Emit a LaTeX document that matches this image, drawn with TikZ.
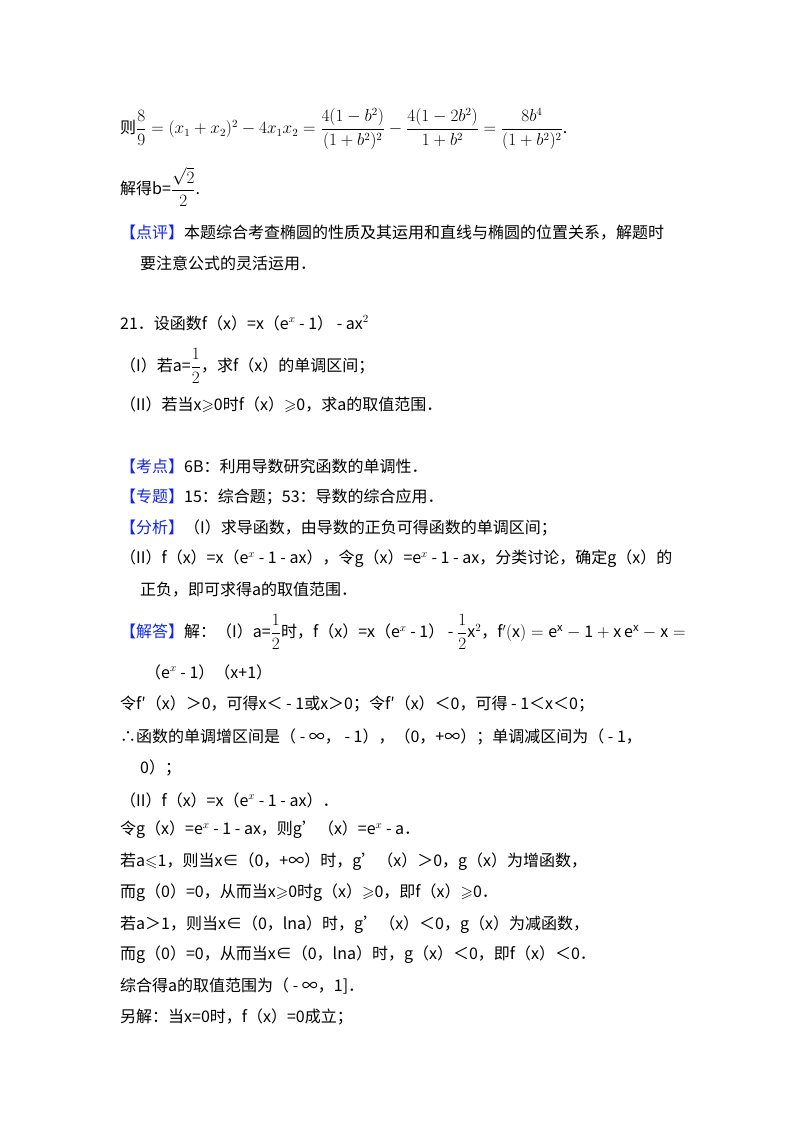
\documentclass[tikz,border=0pt]{standalone}
\usepackage{amsmath,amssymb}
\usepackage{fontspec}
\setmainfont{Noto Sans CJK SC}
\definecolor{kb}{RGB}{20,40,230}
\newcommand{\kl}[1]{\textcolor{kb}{【#1】}}
\newcommand{\gs}{$\geqslant$}
\newcommand{\ls}{$\leqslant$}
\begin{document}
\begin{tikzpicture}[x=1pt,y=-1pt,every node/.style={anchor=west,inner sep=0pt,font=\fontsize{16}{18}\selectfont}]
\useasboundingbox[fill=white] (0,0) rectangle (800,1132);
\node (l1) at (120,129) {则$\dfrac{8}{9}=(x_1+x_2)^2-4x_1x_2=\dfrac{4(1-b^2)}{(1+b^2)^2}-\dfrac{4(1-2b^2)}{1+b^2}=\dfrac{8b^4}{(1+b^2)^2}$.};
\node (l2) at (120,187) {解得b=$\dfrac{\sqrt{2}}{2}$.};
\node (l3) at (120,233) {\kl{点评}本题综合考查椭圆的性质及其运用和直线与椭圆的位置关系，解题时};
\node (l4) at (140,263) {要注意公式的灵活运用．};
\node (l5) at (120,323) {21．设函数f（x）=x（e$^{x}$ - 1） - ax$^2$};
\node (l6) at (120,366) {（I）若a=$\dfrac12$，求f（x）的单调区间；};
\node (l7) at (120,405) {（II）若当x\gs0时f（x）\gs0，求a的取值范围．};
\node (l8) at (120,466) {\kl{考点}6B：利用导数研究函数的单调性．};
\node (l9) at (120,497) {\kl{专题}15：综合题；53：导数的综合应用．};
\node (l10) at (120,528) {\kl{分析}（I）求导函数，由导数的正负可得函数的单调区间；};
\node (l11) at (120,559) {（II）f（x）=x（e$^{x}$ - 1 - ax），令g（x）=e$^{x}$ - 1 - ax，分类讨论，确定g（x）的};
\node (l12) at (140,590) {正负，即可求得a的取值范围．};
\node (l13) at (120,632) {\kl{解答}解：（I）a=$\dfrac12$时，f（x）=x（e$^{x}$ - 1） - $\dfrac12$x$^2$，$\mathrm{f'(x)=e^x-1+x\,e^x-x=}$};
\node (l14) at (145,672) {（e$^{x}$ - 1）（x+1）};
\node (l15) at (120,704) {令f′（x）＞0，可得x＜ - 1或x＞0；令f′（x）＜0，可得 - 1＜x＜0；};
\node (l16) at (120,737) {∴函数的单调增区间是（ - ∞， - 1），（0，+∞）；单调减区间为（ - 1，};
\node (l17) at (140,768) {0）；};
\node (l18) at (120,800) {（II）f（x）=x（e$^{x}$ - 1 - ax）．};
\node (l19) at (120,830) {令g（x）=e$^{x}$ - 1 - ax，则g'（x）=e$^{x}$ - a．};
\node (l20) at (120,862) {若a\ls1，则当x∈（0，+∞）时，g'（x）＞0，g（x）为增函数，};
\node (l21) at (120,893) {而g（0）=0，从而当x\gs0时g（x）\gs0，即f（x）\gs0．};
\node (l22) at (120,925) {若a＞1，则当x∈（0，lna）时，g'（x）＜0，g（x）为减函数，};
\node (l23) at (120,955) {而g（0）=0，从而当x∈（0，lna）时，g（x）＜0，即f（x）＜0．};
\node (l24) at (120,986) {综合得a的取值范围为（ - ∞，1]．};
\node (l25) at (120,1017) {另解：当x=0时，f（x）=0成立；};
\end{tikzpicture}
\end{document}
